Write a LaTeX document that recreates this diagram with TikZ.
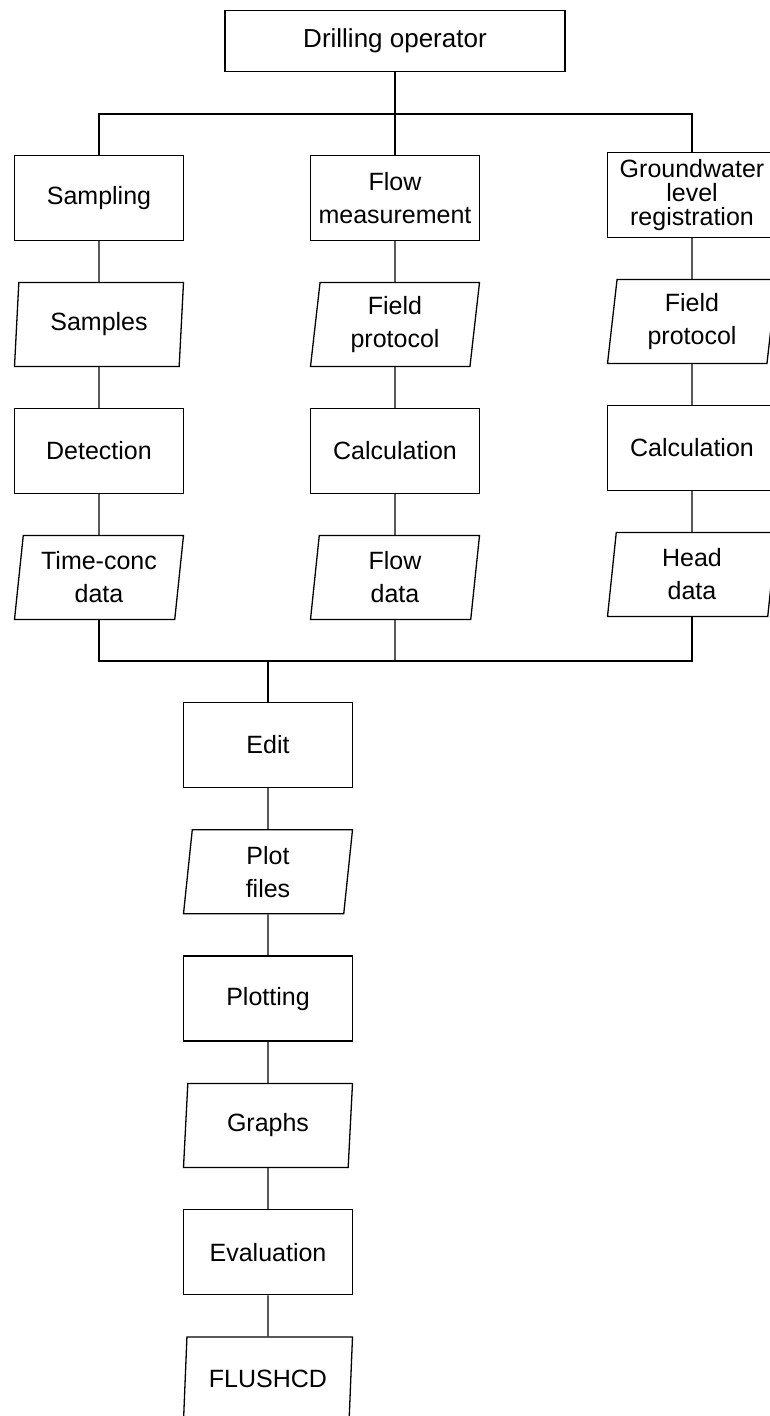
\documentclass[tikz,border=0pt]{standalone}
\usepackage{fontspec}
\setmainfont{Liberation Sans}
\usetikzlibrary{shapes.geometric,positioning}

\begin{document}
\begin{tikzpicture}[x=1pt, y=-1pt, node distance=126.5pt,
  every node/.style={font=\fontsize{25}{33}\selectfont},
  proc/.style={rectangle, draw, line width=1.3pt, minimum width=169pt, minimum height=85pt, align=center, inner sep=2pt},
  data/.style={trapezium, trapezium left angle=81, trapezium right angle=99, trapezium stretches body, draw, line width=1.3pt, minimum width=169pt, minimum height=84pt, align=center, inner sep=2pt},
  link/.style={line width=1.3pt}]
\useasboundingbox (0,0) rectangle (770,1416);
% top of the tree
\node[proc, minimum width=340pt, minimum height=61pt, font=\fontsize{26}{33}\selectfont] (operator) at (395,41) {Drilling operator};
\coordinate (split) at (395,114);
% three branches
\node[proc] (sampling) at (99,198) {Sampling};
\node[data, below of=sampling] (samples) {Samples};
\node[proc, below of=samples] (detection) {Detection};
\node[data, below of=detection] (tconc) {Time-conc\\data};
\node[proc] (flow) at (395,198) {Flow\\measurement};
\node[data, below of=flow] (fieldA) {Field\\protocol};
\node[proc, below of=fieldA] (calcA) {Calculation};
\node[data, below of=calcA] (flowdata) {Flow\\data};
\node[proc, font=\fontsize{25}{24}\selectfont] (gwlevel) at (692,195) {Groundwater\\level\\registration};
\node[data, below of=gwlevel] (fieldB) {Field\\protocol};
\node[proc, below of=fieldB] (calcB) {Calculation};
\node[data, below of=calcB] (headdata) {Head\\data};
\coordinate (join) at (395,661);
\coordinate (merge) at (268,661);
% processing chain
\node[proc] (edit) at (268,745) {Edit};
\node[data, below of=edit, node distance=126.8pt] (plotfiles) {Plot\\files};
\node[proc, below of=plotfiles, node distance=126.8pt] (plotting) {Plotting};
\node[data, below of=plotting, node distance=126.8pt] (graphs) {Graphs};
\node[proc, below of=graphs, node distance=126.8pt] (evaluation) {Evaluation};
\node[data, below of=evaluation, node distance=126.8pt] (flushcd) {FLUSHCD};
\draw[link] (operator) -- (flow);
\draw[link] (sampling) |- (split) -| (gwlevel);
\draw[link] (sampling) -- (samples);
\draw[link] (samples) -- (detection);
\draw[link] (detection) -- (tconc);
\draw[link] (flow) -- (fieldA);
\draw[link] (fieldA) -- (calcA);
\draw[link] (calcA) -- (flowdata);
\draw[link] (gwlevel) -- (fieldB);
\draw[link] (fieldB) -- (calcB);
\draw[link] (calcB) -- (headdata);
\draw[link] (tconc) |- (join) -| (headdata);
\draw[link] (flowdata) -- (join);
\draw[link] (merge) -- (edit);
\draw[link] (edit) -- (plotfiles);
\draw[link] (plotfiles) -- (plotting);
\draw[link] (plotting) -- (graphs);
\draw[link] (graphs) -- (evaluation);
\draw[link] (evaluation) -- (flushcd);
\end{tikzpicture}
\end{document}
